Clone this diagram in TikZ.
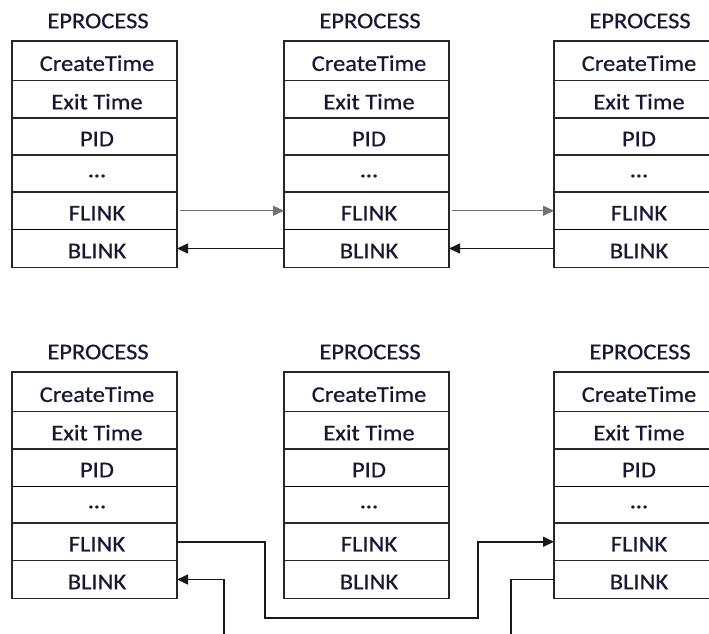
\documentclass[tikz,border=0pt]{standalone}
\usepackage{fontspec}
\setmainfont[FakeStretch=1.09,FakeBold=0.6]{Carlito}
\usetikzlibrary{arrows.meta}
\definecolor{txt}{rgb}{0.09,0.10,0.20}
\definecolor{thin}{gray}{0.55}

% One EPROCESS record: #1 name prefix, #2 left x, #3 top y, #4 index of the faint separator
\newcommand\eprocbox[4]{%
  \node[title] (#1-t) at (#2+86,#3-20) {EPROCESS};
  \foreach \ya/\yb/\txt [count=\i] in
      {0/39.5/CreateTime, 39.5/77/Exit Time, 77/114/PID,
       114/151/\dots, 151/188.5/FLINK, 188.5/226.5/BLINK}{%
    \pgfmathsetmacro\hh{\yb-\ya}
    \node[cell, minimum height=\hh pt] (#1-\i) at (#2+82.5,{#3+(\ya+\yb)/2}) {};
    \node[label] (#1-l\i) at (#2+85,{#3+(\ya+\yb)/2+2.5}) {\txt};
  }
  \foreach \i in {1,...,5}{%
    \pgfmathtruncatemacro\isfaint{\i==#4}
    \ifnum\isfaint=1
      \draw[sepfaint] (#1-\i.south west) -- (#1-\i.south east);
    \else
      \draw[sep] (#1-\i.south west) -- (#1-\i.south east);
    \fi
  }
  \draw[outline] (#1-1.north west) rectangle (#1-6.south east);
}

\begin{document}
\begin{tikzpicture}[x=1pt,y=-1pt,
  cell/.style={rectangle, minimum width=165pt, inner sep=0pt, outer sep=0pt},
  label/.style={font=\fontsize{22.5}{24}\selectfont, text=txt, inner sep=0pt},
  title/.style={font=\fontsize{22.5}{24}\selectfont, text=txt, inner sep=0pt},
  outline/.style={line width=1.6pt, black!85},
  sep/.style={line width=1.6pt, black!85},
  sepfaint/.style={line width=1.6pt, thin},
  link/.style={line width=1.5pt, black!90},
  linkfaint/.style={line width=1.4pt, black!55},
  tip/.style={-{Triangle[length=11pt,width=10pt]}}]
\useasboundingbox (0,0) rectangle (709,634);
\fill[white] (0,0) rectangle (709,634);

% upper chain: three records linked both ways
\eprocbox{a}{12}{41}{5}
\eprocbox{b}{284}{41}{5}
\eprocbox{c}{554}{41}{5}

\draw[linkfaint,tip] ([xshift=3pt]a-5.east) -- (b-5.west);
\draw[link,tip] (b-6.west) -- (a-6.east);
\draw[linkfaint,tip] ([xshift=3pt]b-5.east) -- (c-5.west);
\draw[link,tip] (c-6.west) -- (b-6.east);

% lower chain: the middle record is unlinked
\eprocbox{d}{12}{372}{3}
\eprocbox{e}{284}{372}{3}
\eprocbox{f}{554}{372}{3}

\coordinate (j1) at (265,618);
\coordinate (j2) at (478,618);
\coordinate (up1) at (224,634);
\coordinate (dn3) at (511,634);

\draw[link,tip] (d-5.east) -| (j1) -- (j2) |- (f-5.west);
\draw[link,tip] (up1) |- (d-6.east);
\draw[link] (f-6.west) -| (dn3);
\end{tikzpicture}
\end{document}
